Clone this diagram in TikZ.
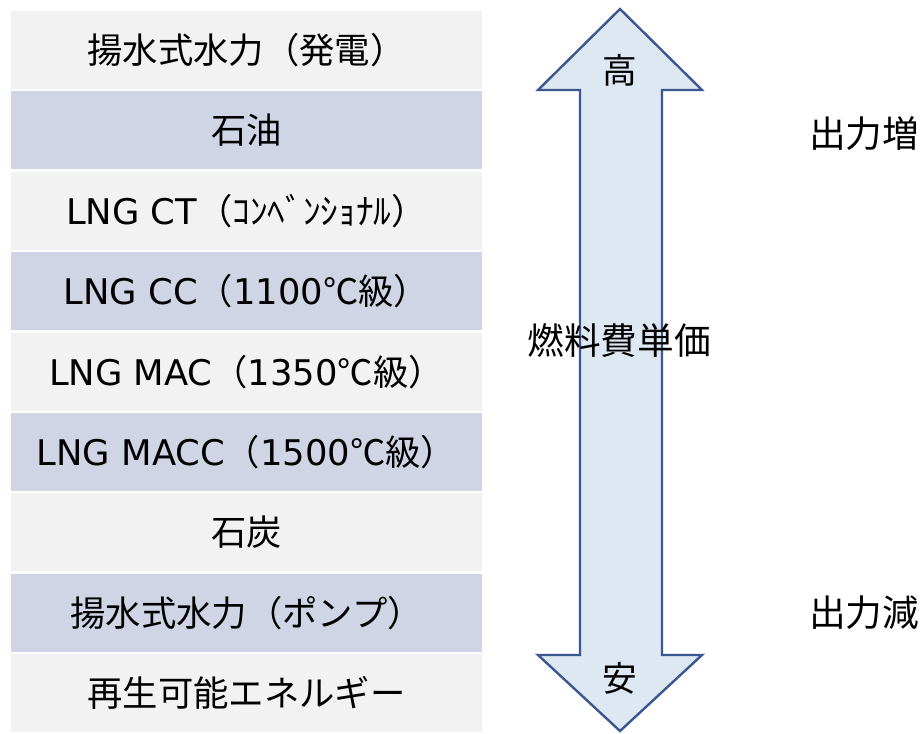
\documentclass[tikz,border=0pt]{standalone}
\usepackage{fontspec}
\setmainfont{DejaVu Sans}
\newfontfamily\jp{Noto Sans CJK JP}
\definecolor{rowgray}{HTML}{F2F2F2}
\definecolor{rowblue}{HTML}{CFD5E4}
\definecolor{arrfill}{HTML}{DEE8F3}
\definecolor{arrline}{HTML}{3C5790}
\begin{document}
\begin{tikzpicture}[x=0.75pt,y=-0.75pt,
  rowbox/.style={draw=none,minimum width=471*0.75pt,minimum height=78*0.75pt,inner sep=0pt,font=\fontsize{26.5pt}{31pt}\selectfont},
  graybox/.style={rowbox,fill=rowgray},
  bluebox/.style={rowbox,fill=rowblue},
  lbl/.style={font=\jp\fontsize{26pt}{31pt}\selectfont,inner sep=0pt},
  side/.style={font=\jp\fontsize{27.5pt}{32pt}\selectfont,inner sep=0pt}]
\useasboundingbox (0,0) rectangle (923,734);
\fill[white] (0,0) rectangle (923,734);
\node[graybox] (r1) at (246.5, 50.0) {\jp 揚水式水力（発電）};
\node[bluebox] (r2) at (246.5,130.4) {\jp 石油};
\node[graybox] (r3) at (246.5,210.8) {LNG CT{\jp（ｺﾝﾍﾞﾝｼｮﾅﾙ）}};
\node[bluebox] (r4) at (246.5,291.2) {LNG CC{\jp（}1100{\jp ℃級）}};
\node[graybox] (r5) at (246.5,371.6) {LNG MAC{\jp（}1350{\jp ℃級）}};
\node[bluebox] (r6) at (246.5,452.0) {LNG MACC{\jp（}1500{\jp ℃級）}};
\node[graybox] (r7) at (246.5,532.4) {\jp 石炭};
\node[bluebox] (r8) at (246.5,612.8) {\jp 揚水式水力（ポンプ）};
\node[graybox] (r9) at (246.5,693.2) {\jp 再生可能エネルギー};
% double arrow
\draw[line width=1.8pt,draw=arrline,fill=arrfill,line join=miter]
  (620,9) -- (702,90) -- (662,90) -- (662,655) -- (702,655) -- (620,731)
  -- (538,655) -- (580,655) -- (580,90) -- (538,90) -- cycle;
\node[lbl] (hi) at (620,70) {高};
\node[lbl] (lo) at (620,678) {安};
\node[side] (mid) at (619,341) {燃料費単価};
\node[side] (up) at (864,134) {出力増};
\node[side] (down) at (864,613) {出力減};
\end{tikzpicture}
\end{document}
